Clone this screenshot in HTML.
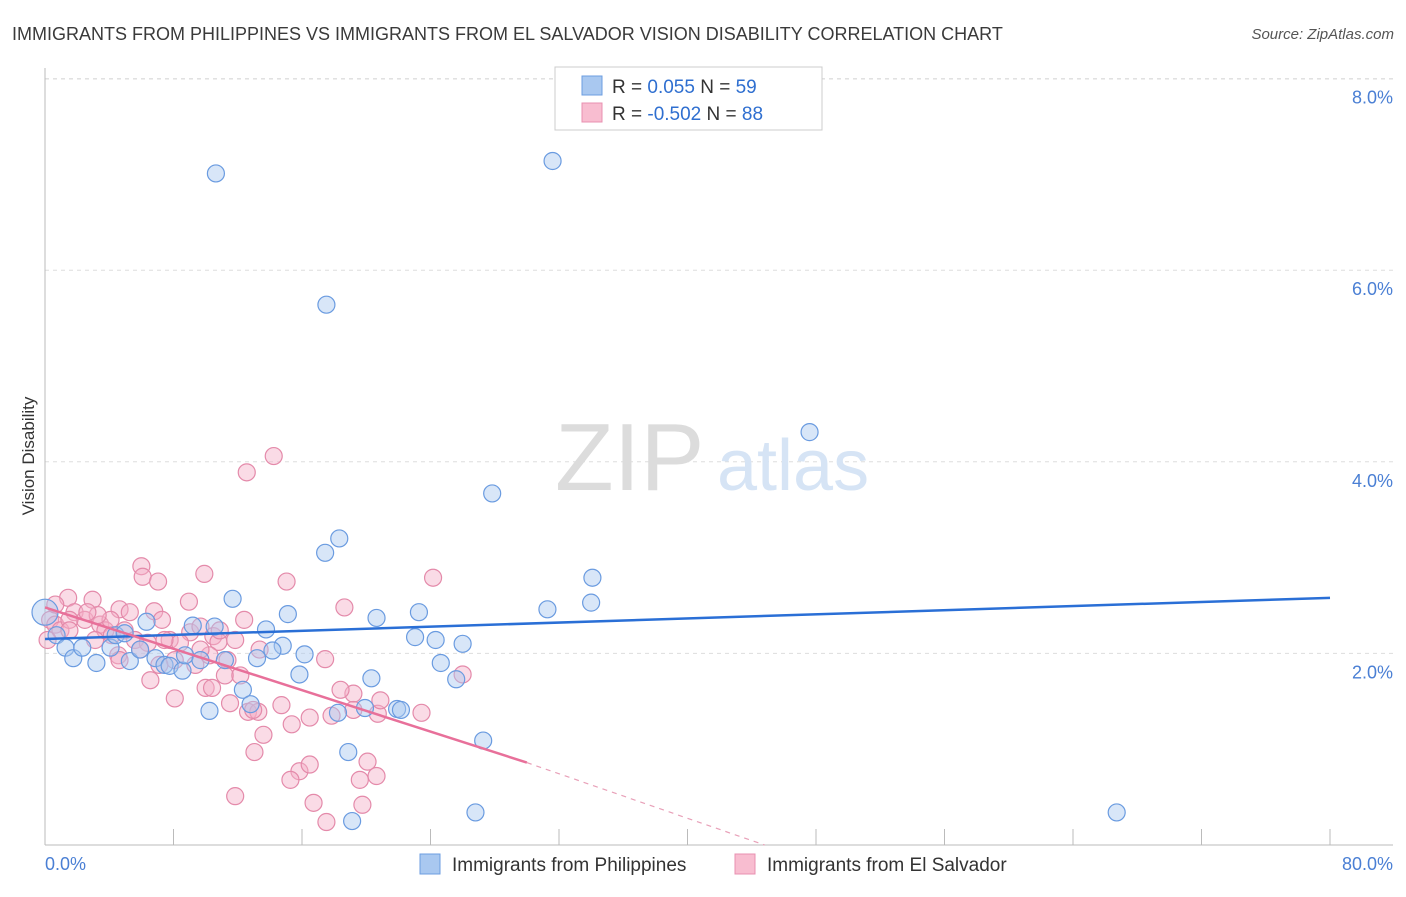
<!DOCTYPE html>
<html><head><meta charset="utf-8"><style>
body{margin:0;background:#fff;font-family:"Liberation Sans",sans-serif;}
svg text{font-family:"Liberation Sans",sans-serif;}
</style></head><body>
<svg id="chart" width="1406" height="892" viewBox="0 0 1406 892" xmlns="http://www.w3.org/2000/svg">
<text x="12" y="40" font-size="18" fill="#3a3a3a">IMMIGRANTS FROM PHILIPPINES VS IMMIGRANTS FROM EL SALVADOR VISION DISABILITY CORRELATION CHART</text>
<text x="1394" y="39" font-size="15" font-style="italic" fill="#555" text-anchor="end">Source: ZipAtlas.com</text>
<g id="grid"></g>
<g>
<text x="555" y="490" font-size="96" font-family="Liberation Serif,serif" fill="#dcdcdc">ZIP</text>
<text x="717" y="490" font-size="72" fill="#d6e4f5">atlas</text>
</g>
<line x1="45" y1="845" x2="1393" y2="845" stroke="#bbb"/>
<line x1="45" y1="68" x2="45" y2="845" stroke="#bbb"/>
<text transform="translate(34,456) rotate(-90)" font-size="17" fill="#333" text-anchor="middle">Vision Disability</text>
<text x="45" y="870" font-size="18" fill="#4a7fd4">0.0%</text>
<text x="1393" y="870" font-size="18" fill="#4a7fd4" text-anchor="end">80.0%</text>
<g id="marks"></g>
<g>
<rect x="555" y="67" width="267" height="63" fill="#fff" stroke="#ccc"/>
<rect x="582" y="76" width="20" height="19" fill="#a9c8f0" stroke="#6c9ee0"/>
<rect x="582" y="103" width="20" height="19" fill="#f8bdd0" stroke="#e890b0"/>
<text x="612" y="93" font-size="19" fill="#333">R =  <tspan fill="#2f6fd0">0.055</tspan>   N = <tspan fill="#2f6fd0">59</tspan></text>
<text x="612" y="120" font-size="19" fill="#333">R = <tspan fill="#2f6fd0">-0.502</tspan>   N = <tspan fill="#2f6fd0">88</tspan></text>
</g>
<g>
<rect x="420" y="854" width="20" height="20" fill="#a9c8f0" stroke="#6c9ee0"/>
<text x="452" y="871" font-size="19" fill="#333">Immigrants from Philippines</text>
<rect x="735" y="854" width="20" height="20" fill="#f8bdd0" stroke="#e890b0"/>
<text x="767" y="871" font-size="19" fill="#333">Immigrants from El Salvador</text>
</g>
</svg>
<script>
const yTicks=[2,4,6,8];
const yTickLabels=["2.0%","4.0%","6.0%","8.0%"];
const blueX=[13.3,39.5,21.9,59.5,34.8,22.9,21.8,42.6,42.5,39.1,14.6,18.9,25.8,29.1,17.2,28.8,30.4,32.5,18.5,17.7,20.2,30.8,32.0,25.4,19.8,15.4,16.0,12.8,22.8,24.9,27.4,27.7,34.1,23.6,33.5,23.9,83.4,0,0.9,1.6,2.2,2.9,4.0,5.1,5.5,6.2,6.6,7.4,8.6,9.3,9.7,10.7,10.9,12.1,11.5,14.0,16.5,7.9,13.2];
const blueY=[7.01,7.14,5.64,4.31,3.67,3.20,3.05,2.79,2.53,2.46,2.57,2.41,2.37,2.43,2.25,2.17,2.14,2.10,2.08,2.03,1.99,1.90,1.73,1.74,1.78,1.62,1.47,1.40,1.38,1.43,1.42,1.41,1.09,0.97,0.34,0.25,0.34,2.43,2.19,2.06,1.95,2.06,1.90,2.06,2.19,2.21,1.92,2.04,1.95,1.88,1.87,1.82,1.98,1.93,2.29,1.93,1.95,2.33,2.28];
const pinkX=[15.7,17.8,7.5,12.4,7.6,8.8,18.8,30.2,1.8,3.7,5.8,6.6,8.5,11.2,9.1,11.3,15.5,23.3,0.4,0.8,1.2,2.3,3.1,4.3,4.7,5.2,6.2,7.0,8.0,9.7,10.5,12.1,13.1,13.5,10.1,11.7,12.8,14.2,14.0,15.2,21.8,8.2,10.1,12.5,13.0,14.4,15.8,16.6,18.4,19.2,20.6,22.3,24.0,24.0,25.9,29.3,32.5,17.0,16.3,19.8,20.6,19.1,20.9,21.9,24.5,25.1,25.8,14.8,24.7,0.2,1.9,3.9,5.7,8.9,16.2,23.0,26.1,5.1,7.4,9.3,12.1,13.6,14.8,16.7,5.8,4.1,3.3,1.9,0.8];
const pinkY=[3.89,4.06,2.91,2.83,2.80,2.75,2.75,2.79,2.58,2.56,2.46,2.43,2.44,2.54,2.35,2.22,2.35,2.48,2.35,2.30,2.24,2.43,2.35,2.30,2.24,2.19,2.24,2.14,2.11,2.14,2.11,2.28,2.18,2.12,1.93,1.88,1.98,1.93,1.77,1.77,1.94,1.72,1.53,1.64,1.64,1.48,1.39,1.39,1.46,1.26,1.33,1.35,1.58,1.41,1.37,1.38,1.78,1.15,0.97,0.77,0.84,0.68,0.44,0.24,0.68,0.87,0.72,0.51,0.42,2.14,2.35,2.14,1.98,1.88,1.41,1.62,1.51,2.35,2.04,2.14,2.04,2.24,2.14,2.04,1.93,2.40,2.43,2.24,2.51];
const blueTrend=[[0,2.15],[100,2.58]];
const pinkTrend=[[0,2.48],[37.5,0.86]];
const pinkTrendExt=[[37.5,0.86],[56,0.0]];
const xTicks=[0,10,20,30,40,50,60,70,80,90,100];

const NS="http://www.w3.org/2000/svg";
function sx(v){return 45+v*12.85;}
function sy(v){return 845-v*95.8;}
function mk(tag,attrs,parent){const e=document.createElementNS(NS,tag);for(const k in attrs)e.setAttribute(k,attrs[k]);parent.appendChild(e);return e;}
const grid=document.getElementById('grid');
const marks=document.getElementById('marks');
const svg=document.getElementById('chart');
yTicks.forEach((t,i)=>{
  const l=mk('line',{x1:45,x2:1393,y1:sy(t),y2:sy(t),stroke:'#ddd','stroke-dasharray':'4,4'},grid);
  
  
  const tx=mk('text',{x:1393,y:sy(t)+25,'font-size':18,fill:'#4a7fd4','text-anchor':'end'},svg);
  tx.textContent=yTickLabels[i];
  
  
});
const topL=mk('line',{x1:45,x2:1393,y1:79,y2:79,stroke:'#ddd','stroke-dasharray':'4,4'},grid);


xTicks.forEach(t=>{
  const l=mk('line',{x1:sx(t),x2:sx(t),y1:829,y2:845,stroke:'#bbb'},grid);
  
  
});
function dots(xs,ys,fill,stroke,name){
  xs.forEach((x,i)=>{
    const r=(x===0&&name==='philippines-point')?13:8.5;
    const c=mk('circle',{cx:sx(x),cy:sy(ys[i]),r:r,fill:fill,'fill-opacity':0.45,stroke:stroke,'stroke-width':1.2},marks);
    
    
  });
}
dots(pinkX,pinkY,'#f5b0c8','#e48aaa','el-salvador-point');
dots(blueX,blueY,'#a9c8f0','#6a9be0','philippines-point');
function line(p,stroke,dash,name,w){
  const l=mk('line',{x1:sx(p[0][0]),y1:sy(p[0][1]),x2:sx(p[1][0]),y2:sy(p[1][1]),stroke:stroke,'stroke-width':w},marks);
  if(dash)l.setAttribute('stroke-dasharray',dash);
  
  
}
line(blueTrend,'#2a6fd6',null,'philippines-trend-line',2.5);
line(pinkTrend,'#e8709a',null,'el-salvador-trend-line',2.5);
line(pinkTrendExt,'#e8a0b8','5,5','el-salvador-trend-extension',1.2);
</script>
</body></html>
